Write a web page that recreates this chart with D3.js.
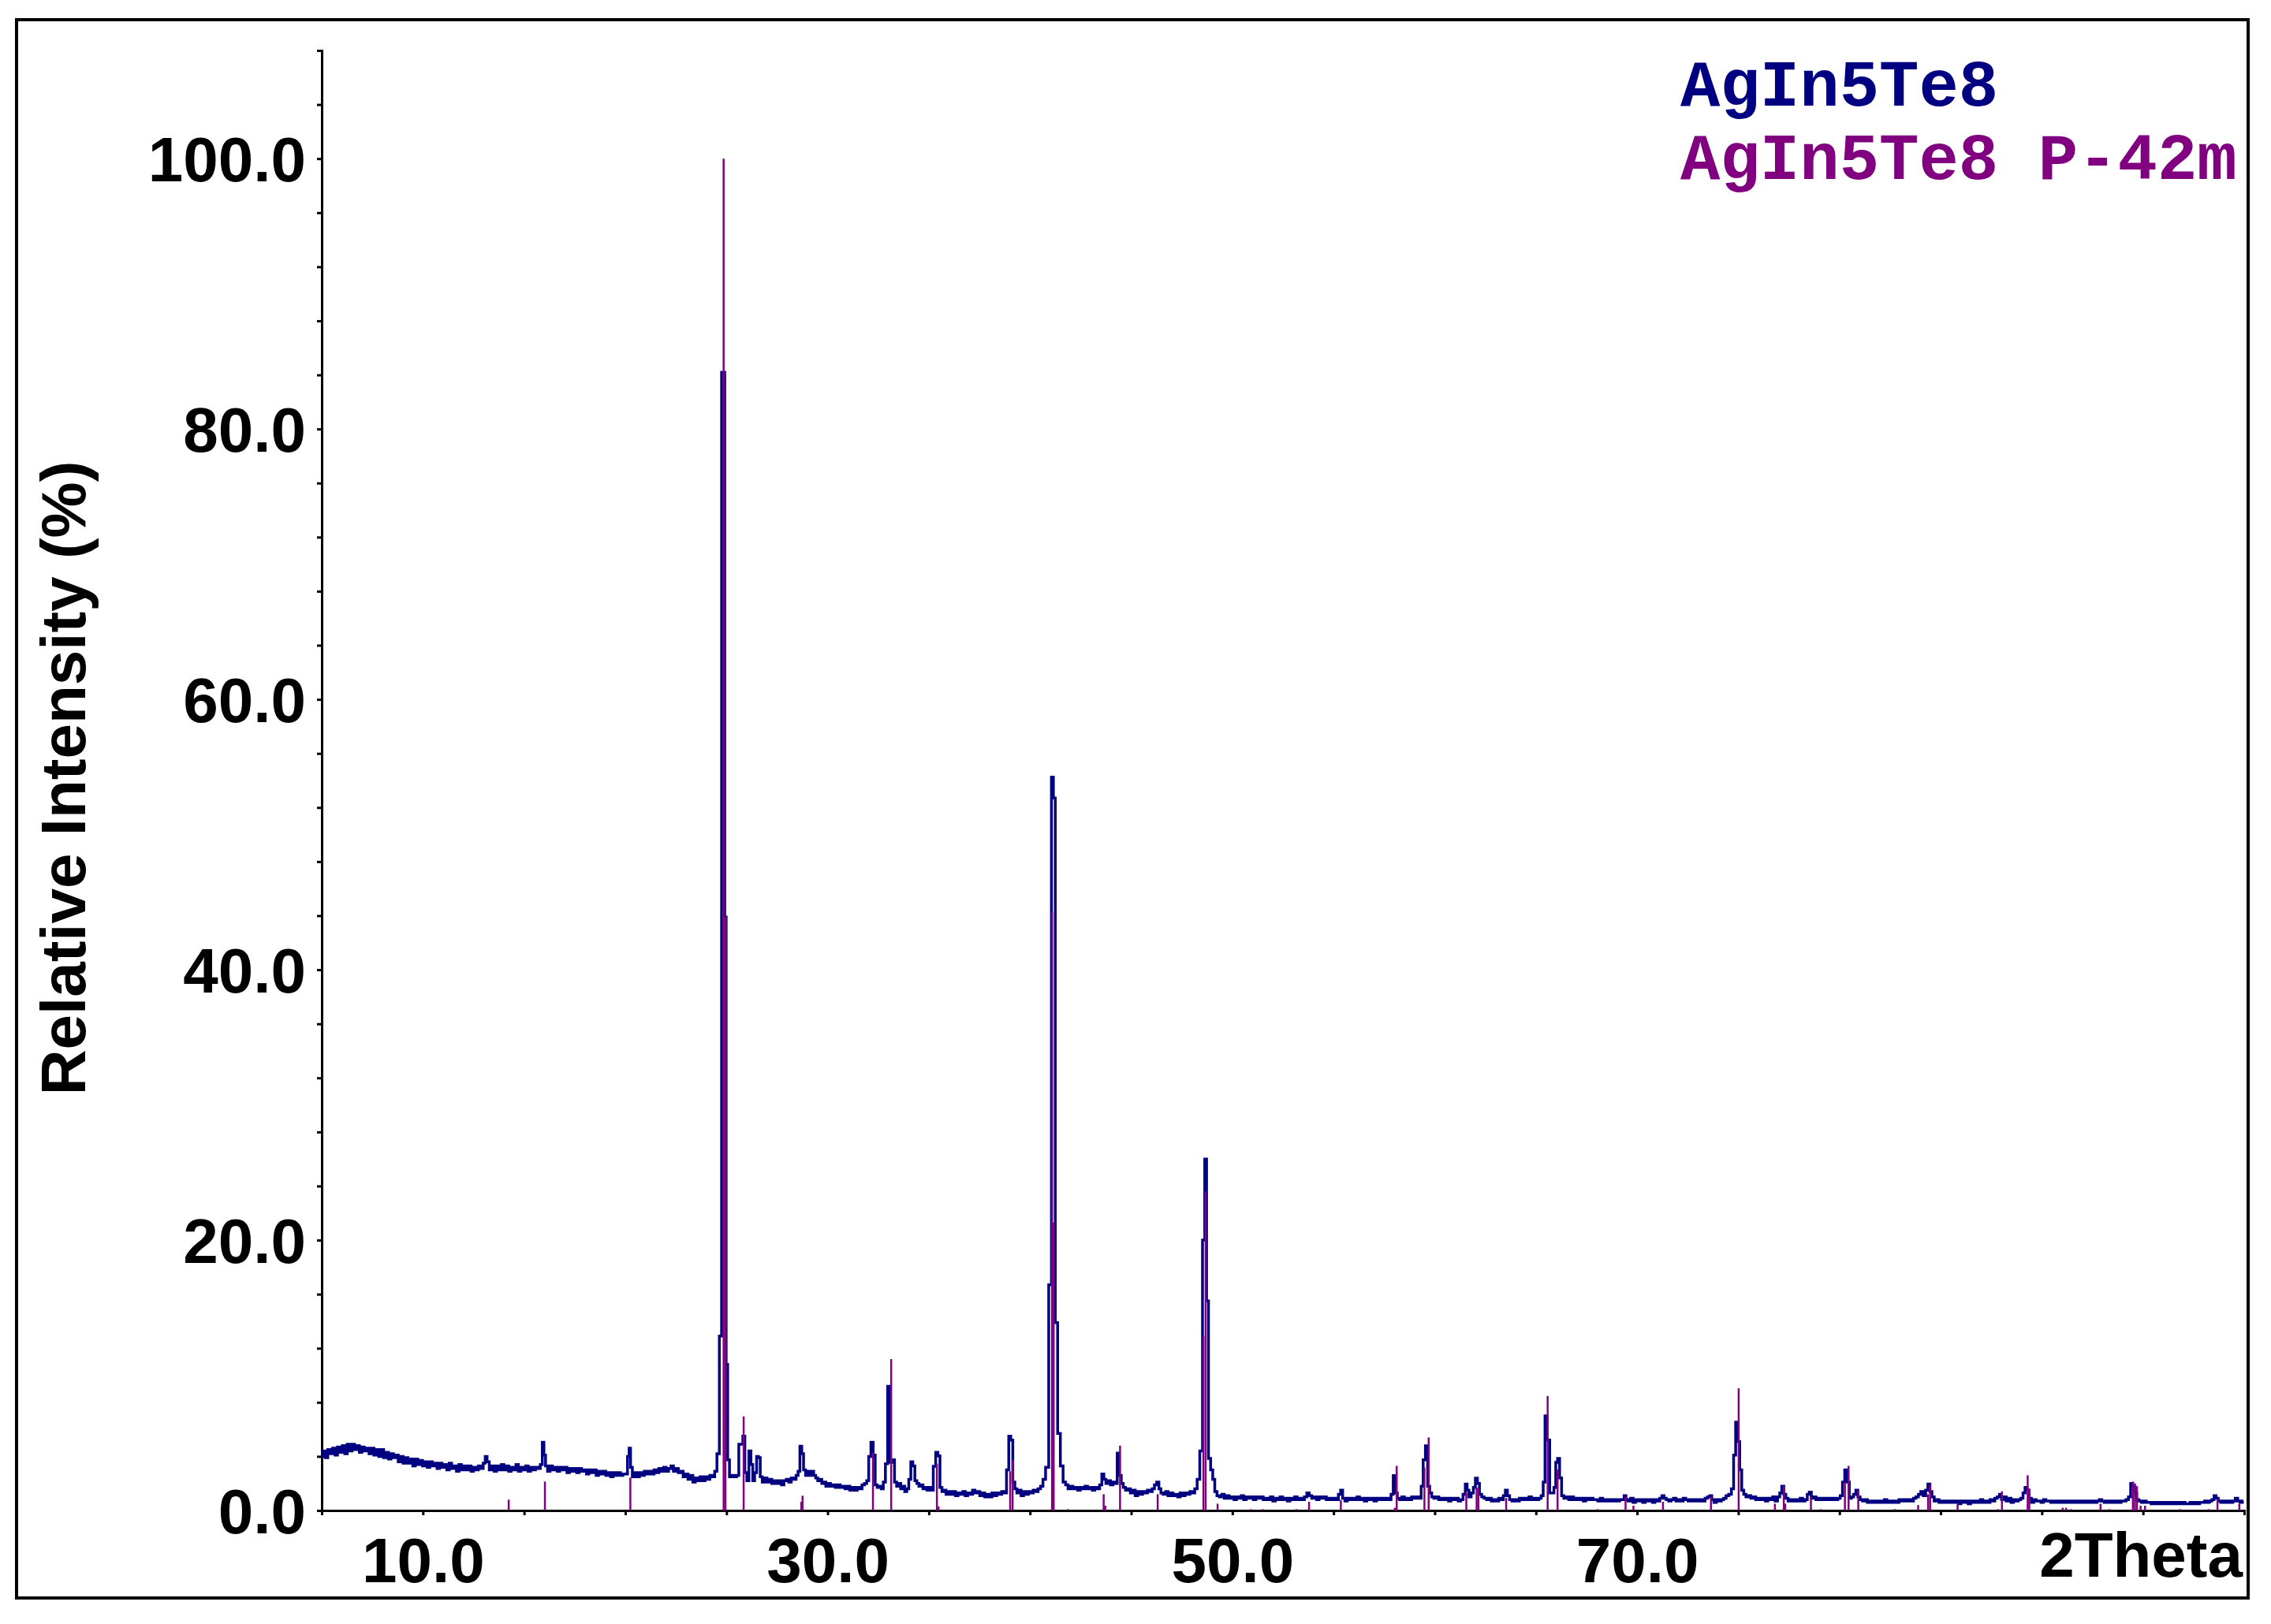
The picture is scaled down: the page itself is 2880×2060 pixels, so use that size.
<!DOCTYPE html>
<html>
<head>
<meta charset="utf-8">
<script src="https://cdn.jsdelivr.net/npm/d3@7"></script>
<style>
  html, body { margin: 0; padding: 0; background: #fff; }
  svg { display: block; }
</style>
</head>
<body>
<svg id="chart" width="2880" height="2060"></svg>
<script>
// ---------- data ----------
const seriesNames = ["AgIn5Te8", "AgIn5Te8 P-42m"];
const seriesColors = ["#000080", "#800080"];

// Measured scan: [2theta, relative intensity %]
const scan = [
[5.00,4.0],[5.12,4.4],[5.24,3.9],[5.36,4.5],[5.48,4.2],[5.60,4.6],[5.72,4.1],[5.84,4.7],[5.96,4.3],[6.08,4.8],
[6.20,4.2],[6.32,4.9],[6.44,4.4],[6.56,4.9],[6.68,4.5],[6.80,4.8],[6.92,4.3],[7.04,4.7],[7.16,4.4],[7.28,4.6],
[7.40,4.2],[7.52,4.6],[7.64,4.1],[7.76,4.5],[7.88,4.0],[8.00,4.5],[8.12,3.9],[8.24,4.3],[8.36,3.8],[8.48,4.2],
[8.60,3.9],[8.72,4.1],[8.84,3.6],[8.96,4.0],[9.08,3.5],[9.20,3.9],[9.32,3.5],[9.44,3.8],[9.56,3.3],[9.68,3.8],
[9.80,3.4],[9.92,3.7],[10.04,3.3],[10.16,3.6],[10.28,3.2],[10.40,3.6],[10.52,3.3],[10.64,3.5],[10.76,3.1],[10.88,3.5],
[11.00,3.2],[11.12,3.4],[11.24,3.0],[11.36,3.5],[11.48,3.1],[11.60,3.3],[11.72,2.9],[11.84,3.4],[11.96,3.0],[12.08,3.3],
[12.20,3.0],[12.32,3.3],[12.44,2.9],[12.56,3.2],[12.68,3.0],[12.80,3.3],[12.92,3.1],[13.04,3.5],[13.12,4.0],[13.22,3.6],
[13.34,3.0],[13.46,3.3],[13.58,2.9],[13.70,3.3],[13.82,3.0],[13.94,3.4],[14.06,3.0],[14.18,3.3],[14.30,2.9],[14.42,3.2],
[14.54,3.0],[14.66,3.4],[14.78,2.9],[14.90,3.2],[15.02,3.0],[15.14,3.3],[15.26,2.9],[15.38,3.2],[15.50,3.0],[15.62,3.2],
[15.74,3.1],[15.86,3.4],[15.94,5.05],[16.02,4.1],[16.10,3.3],[16.22,2.9],[16.34,3.3],[16.46,3.0],[16.58,3.2],[16.70,2.9],
[16.82,3.2],[16.94,3.0],[17.06,3.2],[17.18,2.8],[17.30,3.1],[17.42,2.9],[17.54,3.1],[17.66,2.8],[17.78,3.1],[17.90,2.9],
[18.02,3.0],[18.14,2.7],[18.26,3.0],[18.38,2.8],[18.50,3.0],[18.62,2.6],[18.74,2.9],[18.86,2.7],[18.98,2.9],[19.10,2.6],
[19.22,2.8],[19.34,2.5],[19.46,2.8],[19.58,2.6],[19.70,2.8],[19.82,2.6],[19.94,2.7],[20.06,2.7],[20.16,4.0],[20.22,4.6],
[20.30,3.2],[20.40,2.5],[20.52,2.8],[20.64,2.5],[20.76,2.8],[20.88,2.6],[21.00,2.9],[21.12,2.7],[21.24,2.9],[21.36,2.7],
[21.48,3.0],[21.60,2.8],[21.72,3.1],[21.84,2.9],[21.96,3.2],[22.08,2.9],[22.20,3.1],[22.32,3.3],[22.44,2.9],[22.56,3.1],
[22.68,2.8],[22.80,2.9],[22.92,2.5],[23.04,2.7],[23.16,2.3],[23.28,2.6],[23.40,2.1],[23.52,2.4],[23.64,2.2],[23.76,2.5],
[23.88,2.2],[24.00,2.5],[24.12,2.3],[24.24,2.6],[24.36,2.5],[24.48,2.9],[24.58,4.2],[24.72,12.9],[24.80,84.2],[24.88,84.2],
[24.95,43.9],[25.02,10.8],[25.10,3.75],[25.20,2.5],[25.32,2.6],[25.44,2.5],[25.56,2.6],[25.66,4.9],[25.76,4.9],[25.86,5.5],
[25.96,2.8],[26.06,2.2],[26.16,4.4],[26.26,3.4],[26.34,2.2],[26.44,2.8],[26.54,4.0],[26.62,3.9],[26.72,2.5],[26.82,2.1],
[26.94,2.4],[27.06,2.1],[27.18,2.3],[27.30,2.0],[27.42,2.2],[27.54,2.0],[27.66,2.2],[27.78,1.9],[27.90,2.2],[28.02,2.3],
[28.14,2.1],[28.26,2.4],[28.38,2.3],[28.50,2.6],[28.58,2.9],[28.68,4.76],[28.76,4.2],[28.86,3.0],[28.96,2.6],[29.06,2.9],
[29.16,2.6],[29.26,2.9],[29.36,2.6],[29.46,2.4],[29.56,2.2],[29.66,2.3],[29.76,2.0],[29.86,2.1],[29.96,1.8],[30.08,2.0],
[30.20,1.8],[30.32,1.9],[30.44,1.7],[30.56,1.9],[30.68,1.7],[30.80,1.8],[30.92,1.6],[31.04,1.8],[31.16,1.5],[31.28,1.7],
[31.40,1.5],[31.52,1.7],[31.64,1.6],[31.76,1.9],[31.88,2.0],[31.98,2.2],[32.08,4.0],[32.20,5.05],[32.30,4.1],[32.40,1.9],
[32.50,1.7],[32.60,1.8],[32.70,1.6],[32.80,2.1],[32.91,3.46],[33.02,9.19],[33.13,3.56],[33.25,3.75],[33.36,2.1],[33.46,1.8],
[33.56,2.0],[33.66,1.6],[33.76,1.8],[33.86,1.4],[33.96,1.6],[34.06,2.3],[34.16,3.6],[34.26,3.3],[34.36,2.2],[34.46,2.0],
[34.56,1.8],[34.66,1.9],[34.76,1.6],[34.86,1.7],[34.96,1.5],[35.06,1.7],[35.16,1.5],[35.28,3.26],[35.40,4.3],[35.50,4.04],
[35.60,1.7],[35.70,1.4],[35.80,1.5],[35.90,1.2],[36.02,1.4],[36.14,1.2],[36.26,1.4],[36.38,1.1],[36.50,1.3],[36.62,1.2],
[36.74,1.4],[36.86,1.1],[36.98,1.3],[37.10,1.2],[37.22,1.5],[37.34,1.3],[37.46,1.4],[37.58,1.1],[37.70,1.3],[37.82,1.0],
[37.94,1.2],[38.06,1.0],[38.18,1.3],[38.30,1.1],[38.42,1.3],[38.54,1.2],[38.66,1.4],[38.78,1.3],[38.90,3.0],[39.00,5.5],
[39.10,5.2],[39.20,2.1],[39.30,1.6],[39.40,1.3],[39.50,1.5],[39.62,1.1],[39.74,1.4],[39.86,1.2],[39.98,1.4],[40.10,1.3],
[40.22,1.5],[40.34,1.4],[40.46,1.6],[40.58,1.8],[40.70,2.3],[40.84,3.2],[41.01,16.7],[41.11,54.25],[41.20,52.7],[41.30,13.9],
[41.43,5.7],[41.57,3.3],[41.70,2.1],[41.82,1.9],[41.94,1.6],[42.06,1.8],[42.18,1.6],[42.30,1.7],[42.42,1.5],[42.54,1.7],
[42.66,1.6],[42.78,1.8],[42.90,1.6],[43.02,1.7],[43.14,1.5],[43.26,1.7],[43.38,1.6],[43.50,1.9],[43.60,2.7],[43.70,2.3],
[43.80,2.0],[43.92,2.2],[44.04,1.9],[44.16,2.1],[44.26,2.0],[44.36,4.24],[44.46,2.6],[44.56,2.0],[44.66,1.7],[44.78,1.5],
[44.90,1.6],[45.02,1.3],[45.14,1.5],[45.26,1.1],[45.38,1.4],[45.50,1.2],[45.62,1.4],[45.74,1.3],[45.86,1.5],[45.98,1.4],
[46.10,1.6],[46.20,1.9],[46.32,2.1],[46.42,1.6],[46.52,1.3],[46.64,1.2],[46.76,1.4],[46.88,1.1],[47.00,1.3],[47.12,1.1],
[47.24,1.2],[47.36,1.0],[47.48,1.3],[47.60,1.1],[47.72,1.3],[47.84,1.2],[47.96,1.4],[48.08,1.3],[48.20,1.6],[48.32,2.3],
[48.46,4.4],[48.59,20.0],[48.68,26.0],[48.77,15.5],[48.87,3.85],[48.98,3.0],[49.08,2.3],[49.18,1.4],[49.30,1.1],[49.42,1.0],
[49.54,1.2],[49.66,0.9],[49.78,1.1],[49.90,0.9],[50.02,1.0],[50.14,0.8],[50.26,1.0],[50.38,0.9],[50.50,1.1],[50.62,0.8],
[50.74,1.0],[50.86,0.9],[50.98,1.0],[51.10,0.8],[51.22,1.0],[51.34,0.9],[51.46,1.0],[51.58,0.8],[51.70,0.9],[51.82,0.8],
[51.94,1.0],[52.06,0.7],[52.18,0.9],[52.30,0.8],[52.42,1.0],[52.54,0.8],[52.66,0.9],[52.78,0.7],[52.90,0.9],[53.02,0.8],
[53.14,1.0],[53.26,0.8],[53.38,0.9],[53.50,0.8],[53.62,1.0],[53.74,1.3],[53.86,1.1],[53.98,0.9],[54.10,1.0],[54.22,0.8],
[54.34,1.0],[54.46,0.9],[54.58,1.0],[54.70,0.8],[54.82,0.9],[54.94,0.8],[55.06,0.9],[55.18,0.8],[55.30,1.2],[55.40,1.5],
[55.50,0.9],[55.62,0.7],[55.74,0.9],[55.86,0.8],[55.98,0.9],[56.10,0.8],[56.22,1.0],[56.34,0.8],[56.46,0.9],[56.58,0.7],
[56.70,0.9],[56.82,0.8],[56.94,0.9],[57.06,0.7],[57.18,0.9],[57.30,0.8],[57.42,0.9],[57.54,0.8],[57.66,0.9],[57.78,0.8],
[57.90,1.2],[58.00,2.58],[58.10,1.3],[58.20,0.9],[58.32,0.8],[58.44,1.0],[58.56,0.8],[58.68,0.9],[58.80,0.8],[58.92,1.0],
[59.04,0.9],[59.16,1.0],[59.28,0.9],[59.38,1.8],[59.48,3.75],[59.60,4.78],[59.70,1.8],[59.80,1.3],[59.90,1.0],[60.02,0.9],
[60.14,1.0],[60.26,0.8],[60.38,0.9],[60.50,0.8],[60.62,0.9],[60.74,0.7],[60.86,0.9],[60.98,0.8],[61.10,0.9],[61.22,0.7],
[61.34,0.8],[61.46,1.2],[61.56,1.96],[61.64,1.5],[61.74,1.0],[61.86,1.3],[61.96,1.7],[62.06,2.39],[62.16,2.0],[62.26,1.2],
[62.38,1.0],[62.50,0.9],[62.62,0.8],[62.74,0.9],[62.86,0.7],[62.98,0.8],[63.10,0.7],[63.22,0.9],[63.34,0.8],[63.44,1.1],
[63.54,1.5],[63.64,1.1],[63.76,0.8],[63.88,0.7],[64.00,0.8],[64.12,0.7],[64.24,0.9],[64.36,0.8],[64.48,0.9],[64.60,0.8],
[64.72,1.0],[64.84,0.8],[64.96,0.9],[65.08,0.8],[65.20,0.9],[65.32,1.1],[65.40,2.1],[65.50,7.0],[65.62,5.2],[65.74,1.3],
[65.84,1.3],[65.94,1.7],[66.02,3.56],[66.12,3.85],[66.22,2.4],[66.32,1.1],[66.44,0.9],[66.56,1.0],[66.68,0.8],[66.80,1.0],
[66.92,0.8],[67.04,0.9],[67.16,0.8],[67.28,0.9],[67.40,0.7],[67.52,0.9],[67.64,0.8],[67.76,0.9],[67.88,0.8],[68.00,0.8],
[68.12,0.7],[68.24,0.9],[68.36,0.7],[68.48,0.8],[68.60,0.7],[68.72,0.8],[68.84,0.7],[68.96,0.8],[69.08,0.7],[69.20,0.8],
[69.32,0.8],[69.40,1.1],[69.50,0.8],[69.62,0.7],[69.74,0.9],[69.86,0.6],[69.98,0.8],[70.10,0.7],[70.22,0.8],[70.34,0.6],
[70.46,0.8],[70.58,0.7],[70.70,0.8],[70.82,0.6],[70.94,0.8],[71.06,0.7],[71.18,0.9],[71.28,1.1],[71.38,0.9],[71.50,0.8],
[71.62,0.7],[71.74,0.8],[71.86,0.9],[71.98,0.7],[72.10,0.8],[72.22,0.7],[72.34,0.9],[72.46,0.8],[72.58,0.7],[72.70,0.8],
[72.82,0.7],[72.94,0.8],[73.06,0.7],[73.18,0.8],[73.30,0.7],[73.42,0.9],[73.54,1.0],[73.64,1.1],[73.74,0.8],[73.86,0.6],
[73.98,0.8],[74.10,0.7],[74.22,0.8],[74.34,0.9],[74.46,1.1],[74.60,1.2],[74.72,1.6],[74.82,4.1],[74.92,6.53],[75.02,5.1],
[75.12,3.0],[75.22,1.5],[75.32,1.2],[75.44,1.0],[75.56,1.1],[75.68,0.9],[75.80,1.0],[75.92,0.8],[76.04,0.9],[76.16,0.8],
[76.28,0.9],[76.40,0.7],[76.52,0.9],[76.64,0.8],[76.76,1.0],[76.88,0.7],[77.00,1.0],[77.10,1.3],[77.20,1.8],[77.30,1.2],
[77.40,0.9],[77.52,0.7],[77.64,0.8],[77.76,0.7],[77.88,0.8],[78.00,0.7],[78.12,0.9],[78.24,0.7],[78.36,0.8],[78.46,1.2],
[78.56,1.36],[78.66,0.9],[78.78,1.0],[78.90,0.8],[79.02,0.9],[79.14,0.8],[79.26,0.9],[79.38,0.8],[79.50,0.9],[79.62,0.8],
[79.74,0.9],[79.86,0.8],[79.98,0.9],[80.10,1.1],[80.20,2.1],[80.32,3.0],[80.44,2.1],[80.54,0.9],[80.64,1.0],[80.76,1.2],
[80.86,1.5],[80.96,1.0],[81.08,0.8],[81.20,0.7],[81.32,0.8],[81.44,0.6],[81.56,0.7],[81.68,0.6],[81.80,0.7],[81.92,0.6],
[82.04,0.7],[82.16,0.6],[82.28,0.8],[82.40,0.6],[82.52,0.7],[82.64,0.6],[82.76,0.7],[82.88,0.6],[83.00,0.8],[83.12,0.7],
[83.24,0.8],[83.36,0.7],[83.48,0.8],[83.60,0.7],[83.72,0.9],[83.84,1.0],[83.96,1.2],[84.08,1.4],[84.20,1.1],[84.32,1.5],
[84.42,1.96],[84.52,1.4],[84.62,1.0],[84.74,0.7],[84.86,0.8],[84.98,0.6],[85.10,0.7],[85.22,0.6],[85.34,0.7],[85.46,0.6],
[85.58,0.7],[85.70,0.6],[85.82,0.7],[85.94,0.5],[86.06,0.7],[86.18,0.6],[86.30,0.7],[86.42,0.5],[86.54,0.7],[86.66,0.6],
[86.78,0.7],[86.90,0.6],[87.02,0.8],[87.14,0.6],[87.26,0.7],[87.38,0.6],[87.50,0.8],[87.62,0.7],[87.74,0.9],[87.86,1.0],
[87.96,1.2],[88.06,0.8],[88.18,1.0],[88.30,0.7],[88.42,0.9],[88.54,0.6],[88.66,0.8],[88.78,0.7],[88.90,0.8],[89.02,0.9],
[89.12,1.3],[89.22,1.7],[89.32,1.5],[89.42,0.9],[89.54,0.6],[89.66,0.8],[89.78,0.7],[89.90,0.7],[90.02,0.6],[90.14,0.8],
[90.26,0.7],[90.38,0.7],[90.50,0.6],[90.62,0.7],[90.74,0.6],[90.86,0.7],[90.98,0.6],[91.10,0.7],[91.22,0.6],[91.34,0.7],
[91.46,0.6],[91.58,0.7],[91.70,0.6],[91.82,0.7],[91.94,0.6],[92.06,0.7],[92.18,0.6],[92.30,0.7],[92.42,0.6],[92.54,0.7],
[92.66,0.6],[92.78,0.7],[92.90,0.8],[93.02,0.7],[93.14,0.6],[93.26,0.7],[93.38,0.6],[93.50,0.7],[93.62,0.6],[93.74,0.7],
[93.86,0.6],[93.98,0.7],[94.10,0.7],[94.22,0.8],[94.34,1.0],[94.44,2.0],[94.54,1.8],[94.64,1.3],[94.74,0.8],[94.86,0.7],
[94.98,0.6],[95.10,0.7],[95.22,0.6],[95.34,0.6],[95.46,0.5],[95.58,0.6],[95.70,0.5],[95.82,0.6],[95.94,0.5],[96.06,0.6],
[96.18,0.5],[96.30,0.6],[96.42,0.5],[96.54,0.6],[96.66,0.5],[96.78,0.6],[96.90,0.5],[97.02,0.6],[97.14,0.5],[97.26,0.5],
[97.38,0.6],[97.50,0.5],[97.62,0.6],[97.74,0.5],[97.86,0.6],[97.98,0.6],[98.10,0.7],[98.22,0.6],[98.34,0.7],[98.46,0.8],
[98.56,1.1],[98.66,0.9],[98.78,0.7],[98.90,0.6],[99.02,0.7],[99.14,0.6],[99.26,0.7],[99.38,0.6],[99.50,0.7],[99.62,0.9],
[99.74,0.7],[99.86,0.6],[99.96,0.7]
];

// Reference pattern sticks: [2theta, relative intensity %]
const refPeaks = [
[14.24,0.8],[16.03,2.14],[20.25,2.43],[24.86,100],[24.95,43.9],[25.85,6.96],[28.70,0.64],[28.76,1.09],
[32.24,4.3],[33.14,11.2],[35.40,3.46],[35.48,0.3],[39.02,2.9],[39.14,3.75],[41.09,44.3],[41.17,21.3],
[41.87,0.1],[43.64,1.2],[43.72,0.35],[44.45,4.8],[46.31,1.2],[48.57,12.9],[48.68,23.6],[49.27,0.5],
[50.92,0.1],[51.50,0.1],[53.17,0.1],[53.79,0.64],[55.36,0.78],[58.03,0.2],[58.12,3.3],[59.49,3.17],
[59.70,5.4],[61.56,1.32],[62.07,1.7],[62.16,1.7],[63.53,0.93],[65.58,8.47],[66.07,3.03],[68.05,0.1],
[69.43,1.0],[69.82,0.35],[71.28,0.64],[73.65,1.0],[75.02,9.04],[76.81,0.5],[77.25,1.8],[77.32,0.5],
[78.59,1.03],[79.07,0.1],[80.27,2.1],[80.45,3.3],[80.93,1.5],[82.73,0.1],[83.89,0.4],[84.38,1.2],
[84.48,1.9],[85.84,0.55],[87.84,0.1],[88.03,1.42],[89.30,2.6],[89.38,1.6],[91.03,0.2],[91.20,0.2],
[91.45,0.1],[92.90,0.5],[93.34,0.1],[94.50,2.14],[94.60,2.0],[94.70,1.8],[94.88,0.35],[95.10,0.35],
[96.85,0.1],[98.25,0.1],[98.68,0.84],[99.76,0.5]
];

const xTickValues = d3.range(5, 101, 5);
const xLabelValues = [10, 30, 50, 70];
const xAxisTitle = "2Theta";
const yTickValues = d3.range(0, 105, 4);
const yLabelValues = [0, 20, 40, 60, 80, 100];
const yAxisTitle = "Relative Intensity (%)";

// ---------- drawing ----------
const svg = d3.select("#chart");
svg.append("rect").attr("width", 2880).attr("height", 2060).attr("fill", "#fff");

// outer frame
svg.append("rect")
  .attr("x", 21).attr("y", 25).attr("width", 2830).attr("height", 2002)
  .attr("fill", "none").attr("stroke", "#000").attr("stroke-width", 4);

const x = d3.scaleLinear().domain([5, 100]).range([408, 2846]);
const y = d3.scaleLinear().domain([0, 108]).range([1916, 64]);

const tickFont = "'Liberation Sans', Arial, sans-serif";

// Y axis
const yAxis = d3.axisLeft(y)
  .tickValues(yTickValues)
  .tickSize(6)
  .tickPadding(14)
  .tickFormat(d => yLabelValues.includes(d) ? d.toFixed(1) : "");
const gy = svg.append("g").attr("transform", "translate(408,0)").call(yAxis);
gy.select(".domain").attr("stroke", "#000").attr("stroke-width", 3);
gy.selectAll(".tick line").attr("stroke", "#000").attr("stroke-width", 3);
gy.selectAll(".tick text")
  .attr("font-family", tickFont).attr("font-weight", "bold")
  .attr("font-size", 80).attr("fill", "#000").attr("dy", "0.36em");

// X axis
const xAxis = d3.axisBottom(x)
  .tickValues(xTickValues)
  .tickSize(6)
  .tickPadding(28)
  .tickFormat(d => xLabelValues.includes(d) ? d.toFixed(1) : "");
const gx = svg.append("g").attr("transform", "translate(0,1916)").call(xAxis);
gx.select(".domain").attr("stroke", "#000").attr("stroke-width", 3);
gx.selectAll(".tick line").attr("stroke", "#000").attr("stroke-width", 3);
gx.selectAll(".tick text")
  .attr("font-family", tickFont).attr("font-weight", "bold")
  .attr("font-size", 80).attr("fill", "#000").attr("dy", "0.71em");

svg.append("text")
  .attr("x", x(100) - 2).attr("y", 2000)
  .attr("text-anchor", "end")
  .attr("font-family", tickFont).attr("font-weight", "bold")
  .attr("font-size", 80).attr("fill", "#000")
  .text(xAxisTitle);

svg.append("text")
  .attr("transform", "translate(108,987) rotate(-90)")
  .attr("text-anchor", "middle")
  .attr("font-family", tickFont).attr("font-weight", "bold")
  .attr("font-size", 80).attr("fill", "#000")
  .text(yAxisTitle);

// measured scan
const line = d3.line()
  .x(d => x(d[0]))
  .y(d => y(d[1]))
  .curve(d3.curveStep);
svg.append("path")
  .datum(scan)
  .attr("d", line)
  .attr("fill", "none")
  .attr("stroke", seriesColors[0])
  .attr("stroke-width", 3.5)
  .attr("stroke-linejoin", "miter");

// reference sticks
svg.append("g").selectAll("line")
  .data(refPeaks)
  .join("line")
  .attr("x1", d => x(d[0])).attr("x2", d => x(d[0]))
  .attr("y1", y(0)).attr("y2", d => y(d[1]))
  .attr("stroke", seriesColors[1])
  .attr("stroke-width", 2.5);

// legend
const legendFont = "'Liberation Mono', 'Courier New', monospace";
svg.append("g").selectAll("text")
  .data(seriesNames)
  .join("text")
  .attr("x", 2131)
  .attr("y", (d, i) => 134 + i * 93)
  .attr("font-family", legendFont).attr("font-weight", "bold")
  .attr("font-size", 84)
  .attr("fill", (d, i) => seriesColors[i])
  .attr("xml:space", "preserve")
  .text(d => d);
</script>
</body>
</html>
